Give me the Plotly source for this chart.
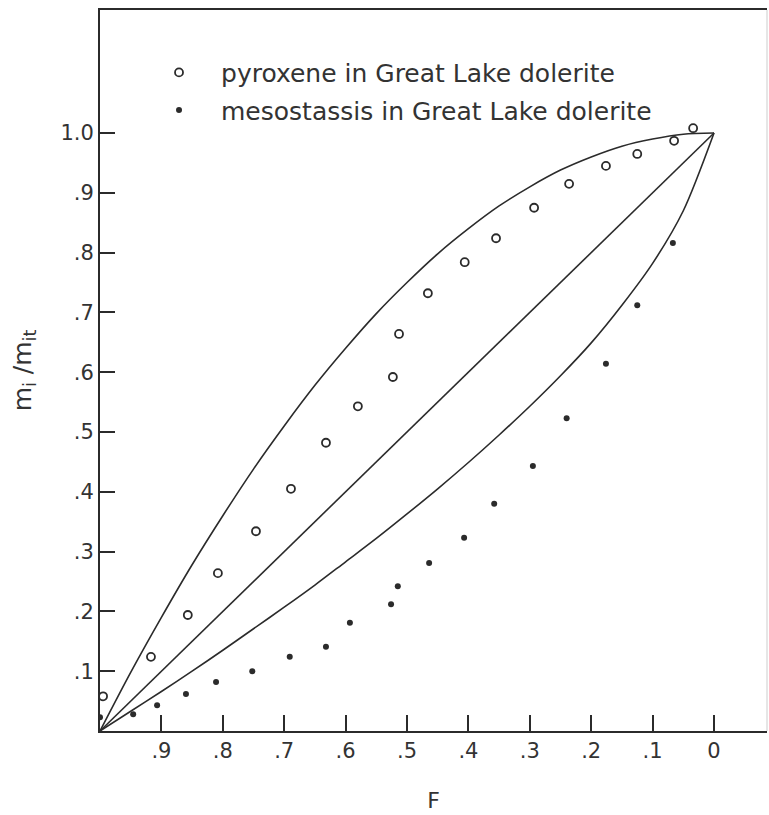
import plotly.graph_objects as go

# ---- data ----
pyroxene_F = [0.995, 0.917, 0.857, 0.808, 0.746, 0.689, 0.632, 0.580, 0.523, 0.513,
              0.466, 0.406, 0.355, 0.293, 0.236, 0.176, 0.125, 0.065, 0.034]
pyroxene_m = [0.058, 0.124, 0.194, 0.264, 0.334, 0.405, 0.482, 0.543, 0.592, 0.664,
              0.732, 0.784, 0.824, 0.875, 0.915, 0.945, 0.965, 0.987, 1.008]

meso_F = [1.000, 0.946, 0.907, 0.860, 0.811, 0.752, 0.691, 0.632, 0.593, 0.526,
          0.515, 0.464, 0.407, 0.358, 0.295, 0.240, 0.176, 0.125, 0.067]
meso_m = [0.023, 0.028, 0.043, 0.062, 0.082, 0.100, 0.124, 0.141, 0.181, 0.212,
          0.242, 0.281, 0.323, 0.380, 0.443, 0.523, 0.614, 0.712, 0.816]

curve_F = [1.00, 0.95, 0.90, 0.85, 0.80, 0.75, 0.70, 0.65, 0.60, 0.55, 0.50,
           0.45, 0.40, 0.35, 0.30, 0.25, 0.20, 0.15, 0.10, 0.05, 0.00]
upper_m = [0.000, 0.098, 0.190, 0.278, 0.360, 0.438, 0.510, 0.578, 0.640, 0.698, 0.750,
           0.798, 0.840, 0.878, 0.910, 0.938, 0.960, 0.978, 0.990, 0.998, 1.000]
lower_m = [0.000, 0.033, 0.066, 0.100, 0.135, 0.171, 0.207, 0.244, 0.283, 0.322, 0.363,
           0.405, 0.449, 0.495, 0.543, 0.594, 0.649, 0.712, 0.782, 0.870, 1.000]
diag_F = [1.0, 0.0]
diag_m = [0.0, 1.0]

x_tickvals = [0.9, 0.8, 0.7, 0.6, 0.5, 0.4, 0.3, 0.2, 0.1, 0.0]
x_ticktext = [".9", ".8", ".7", ".6", ".5", ".4", ".3", ".2", ".1", "0"]
y_tickvals = [0.1, 0.2, 0.3, 0.4, 0.5, 0.6, 0.7, 0.8, 0.9, 1.0]
y_ticktext = [".1", ".2", ".3", ".4", ".5", ".6", ".7", ".8", ".9", "1.0"]

ink = "#2b2b2b"
txt = "#333333"
font_family = "DejaVu Sans"

fig = go.Figure()

for ys in (upper_m, lower_m):
    fig.add_trace(go.Scatter(x=curve_F, y=ys, mode="lines",
                             line=dict(color=ink, width=1.6, shape="spline", smoothing=0.8),
                             showlegend=False, hoverinfo="skip"))
fig.add_trace(go.Scatter(x=diag_F, y=diag_m, mode="lines",
                         line=dict(color=ink, width=1.6), showlegend=False, hoverinfo="skip"))

fig.add_trace(go.Scatter(x=pyroxene_F, y=pyroxene_m, mode="markers",
                         name="pyroxene in Great Lake dolerite", legendgroup="a",
                         marker=dict(symbol="circle-open", size=8, color=ink,
                                     line=dict(width=1.8, color=ink))))
fig.add_trace(go.Scatter(x=meso_F, y=meso_m, mode="markers",
                         name="mesostassis in Great Lake dolerite", legendgroup="b",
                         marker=dict(symbol="circle", size=6, color=ink)))

fig.add_shape(type="line", xref="paper", yref="paper", x0=1, x1=1, y0=0, y1=1,
              line=dict(color="#e6e6e6", width=2))

fig.update_layout(
    width=769, height=815, autosize=False,
    margin=dict(l=100, r=2, t=10, b=84),
    paper_bgcolor="white", plot_bgcolor="white",
    font=dict(family=font_family, color=txt, size=21),
    xaxis=dict(range=[1.0, -0.0863], tickvals=x_tickvals, ticktext=x_ticktext,
               ticks="inside", ticklen=16, tickwidth=1.6, tickcolor=ink,
               showline=True, linewidth=2, linecolor=ink, mirror=True,
               showgrid=False, zeroline=False, ticklabelstandoff=0,
               tickfont=dict(size=21, color=txt, family=font_family),
               title=dict(text="F", font=dict(size=22, color=txt, family=font_family),
                          standoff=30)),
    yaxis=dict(range=[0, 1.2057], tickvals=y_tickvals, ticktext=y_ticktext,
               ticks="inside", ticklen=15, tickwidth=1.6, tickcolor=ink,
               showline=True, linewidth=2, linecolor=ink,
               showgrid=False, zeroline=False, ticklabelstandoff=0,
               tickfont=dict(size=21, color=txt, family=font_family),
               title=dict(text="m<sub>i</sub> /m<sub>it</sub>",
                          font=dict(size=25, color=txt, family=font_family),
                          standoff=22)),
    legend=dict(x=0.0555, y=0.945, xanchor="left", yanchor="top",
                bgcolor="rgba(0,0,0,0)", borderwidth=0, itemwidth=74,
                tracegroupgap=2,
                font=dict(size=25, color=txt, family=font_family)),
    showlegend=True,
)

fig.write_html("out.html", config={"displayModeBar": False},
               post_script="document.body.style.margin='0';")
